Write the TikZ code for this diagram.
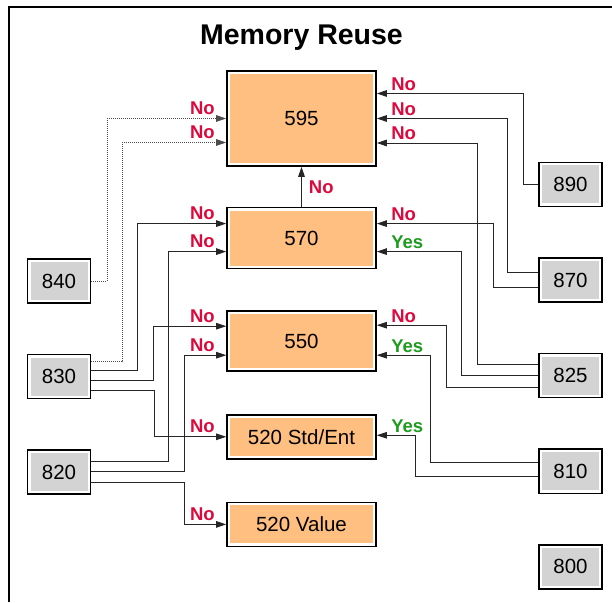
\documentclass[tikz,border=0pt]{standalone}
\usepackage{fontspec}
\setmainfont{Liberation Sans}
\usepackage{xcolor}
\usepackage{tikz}
\usetikzlibrary{arrows.meta, positioning}

\definecolor{boxorange}{HTML}{FFBF80}
\definecolor{boxgray}{HTML}{D3D3D3}
\definecolor{noRed}{HTML}{DC0A3C}
\definecolor{yesGreen}{HTML}{1E9B1E}

\begin{document}
\begin{tikzpicture}[
    x=1pt, y=1pt,
    mbox/.style={rectangle, draw=black, line width=1.6pt, fill=white, inner sep=0pt, align=center,
        font=\fontsize{20.5}{24}\selectfont,
        path picture={\fill[#1] ([shift={(3pt,3pt)}]path picture bounding box.south west) rectangle ([shift={(-3pt,-3pt)}]path picture bounding box.north east);}},
    obox/.style={mbox=boxorange, minimum width=149pt},
    gbox/.style={mbox=boxgray, minimum width=63pt, minimum height=44pt},
    link/.style={-{Triangle[length=10pt,width=6.5pt]}, line width=0.9pt, black!85},
    dlink/.style={link, dash pattern=on 1pt off 1pt, line width=0.8pt, black!70},
    lblL/.style={anchor=base east, xshift=-11pt, yshift=4pt, inner sep=0pt},
    lblR/.style={anchor=base west, xshift=14pt, yshift=3pt, inner sep=0pt},
    nolbl/.style={text=noRed, inner sep=0pt, font=\fontsize{18.5}{22}\selectfont\bfseries},
    yeslbl/.style={text=yesGreen, inner sep=0pt, font=\fontsize{18.5}{22}\selectfont\bfseries}
]
    \useasboundingbox (0,0) rectangle (612,602);
    \draw[line width=1.4pt] (9,0) -- (9,595) -- (612,595);

    \node[anchor=base, font=\fontsize{28.5}{34}\selectfont\bfseries] (title) at (301.5,557) {Memory Reuse};

    \node[obox, minimum height=95pt] (b595) at (301.5,483.5) {595};
    \node[obox, minimum height=61pt, below=40pt of b595] (b570) {570};
    \node[obox, minimum height=60pt, below=41pt of b570] (b550) {550};
    \node[obox, minimum height=44pt, below=42pt of b550] (b520s) {520 Std/Ent};
    \node[obox, minimum height=44pt, below=42pt of b520s] (b520v) {520 Value};

    \node[gbox] (n840) at (59,321) {840};
    \node[gbox, below=50pt of n840] (n830) {830};
    \node[gbox, below=50pt of n830] (n820) {820};

    \node[gbox] (n890) at (570.5,417.5) {890};
    \node[gbox, below=50pt of n890] (n870) {870};
    \node[gbox, below=50pt of n870] (n825) {825};
    \node[gbox, below=50pt of n825] (n810) {810};
    \node[gbox, below=50pt of n810] (n800) {800};

    \draw[link] (b570.north) -- node[nolbl, right=7pt] {No} (b595.south);

    \draw[dlink] (n840.east) -- ++(16,0) |- (b595.west) node[lblL, nolbl] {No};
    \draw[dlink] ([yshift=15pt]n830.east) -- ++(31,0) |- ([yshift=-24pt]b595.west) node[lblL, nolbl] {No};
    \draw[link] ([yshift=6pt]n830.east) -- ++(46,0) |- ([yshift=14.5pt]b570.west) node[lblL, nolbl] {No};
    \draw[link] ([yshift=-4pt]n830.east) -- ++(62,0) |- ([yshift=15pt]b550.west) node[lblL, nolbl] {No};
    \draw[link] ([yshift=-14pt]n830.east) -- ++(63,0) |- (b520s.west) node[lblL, nolbl] {No};
    \draw[link] ([yshift=11pt]n820.east) -- ++(77,0) |- ([yshift=-13.5pt]b570.west) node[lblL, nolbl] {No};
    \draw[link] ([yshift=1pt]n820.east) -- ++(93,0) |- ([yshift=-14pt]b550.west) node[lblL, nolbl] {No};
    \draw[link] ([yshift=-10pt]n820.east) -- ++(93,0) |- (b520v.west) node[lblL, nolbl] {No};

    \draw[link] (n890.west) -- ++(-15,0) |- ([yshift=25pt]b595.east) node[lblR, nolbl] {No};
    \draw[link] ([yshift=7.5pt]n870.west) -- ++(-31,0) |- (b595.east) node[lblR, nolbl] {No};
    \draw[link] ([yshift=-7.5pt]n870.west) -- ++(-45,0) |- ([yshift=14.5pt]b570.east) node[lblR, nolbl] {No};
    \draw[link] ([yshift=11.5pt]n825.west) -- ++(-61,0) |- ([yshift=-24.5pt]b595.east) node[lblR, nolbl] {No};
    \draw[link] (n825.west) -- ++(-77,0) |- ([yshift=-13.5pt]b570.east) node[lblR, yeslbl] {Yes};
    \draw[link] ([yshift=-11.5pt]n825.west) -- ++(-92,0) |- ([yshift=16pt]b550.east) node[lblR, nolbl] {No};
    \draw[link] ([yshift=8.5pt]n810.west) -- ++(-108,0) |- ([yshift=-14pt]b550.east) node[lblR, yeslbl] {Yes};
    \draw[link] ([yshift=-5.5pt]n810.west) -- ++(-123,0) |- ([yshift=1.5pt]b520s.east) node[lblR, yeslbl] {Yes};
\end{tikzpicture}
\end{document}
